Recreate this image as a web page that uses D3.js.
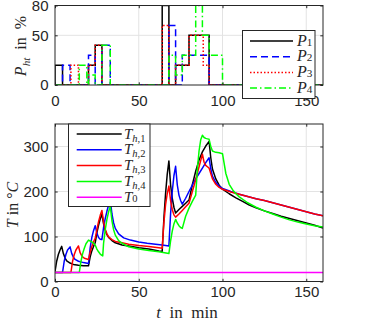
<!DOCTYPE html>
<html>
  <head>
    <meta charset="utf-8">
    <title>Heater power and temperature</title>
    <script src="https://cdn.jsdelivr.net/npm/d3@7"></script>
    <style>
      body { margin: 0; background: #fff; }
      svg { display: block; }
      .tick text { font-family: 'Liberation Sans', Arial, sans-serif; font-size: 15px; fill: #262626; }
      .tick line { stroke: #262626; }
      .label { font-family: 'Liberation Serif', 'Times New Roman', serif; fill: #262626; white-space: pre; }
    </style>
  </head>
  <body>
    <svg id="chart" width="366" height="329"></svg>
    <script>
      // tick values
      const timeTicks = [0, 50, 100, 150];
      const powerTicks = [0, 50, 80];
      const tempTicks = [0, 100, 200, 300];
      // heater power steps [t in min, P in %], value holds until next point
      const p1 = [[0, 0], [0, 20], [4.5, 0], [20, 20], [24, 40], [28, 0], [64, 80], [68, 0], [72, 20], [80, 50], [92, 0], [160, 0]];
      const p2 = [[0, 0], [4.5, 20], [9, 0], [20, 30], [24, 0], [28, 40], [33, 0], [68, 60], [72, 0], [76, 30], [92, 0], [160, 0]];
      const p3 = [[0, 0], [9.5, 20], [14, 0], [20, 20], [24, 40], [28, 0], [64, 60], [68, 0], [72, 20], [80, 50], [88.5, 20], [92, 0], [160, 0]];
      const p4 = [[0, 0], [14.5, 20], [19, 0], [20, 10], [24, 0], [28, 40], [33, 0], [68, 30], [72, 10], [76, 30], [84, 80], [88, 50], [92, 30], [100, 0], [160, 0]];
      // heater temperatures [t in min, T in °C]
      const th1 = [[0, 22], [1, 45], [2, 60], [3, 70], [4, 78], [5, 62], [6, 52], [7, 46], [9, 41], [11, 38], [14, 36], [17, 35], [20, 35],
        [21, 55], [22, 68], [23, 78], [24, 86], [25, 108], [26, 125], [27, 139], [28, 150], [29, 128], [30, 113], [31, 104], [32, 98],
        [34, 91], [36, 86], [40, 81], [44, 79], [50, 75], [56, 72], [62, 68], [64, 67], [65, 140], [66, 195], [67, 238], [68, 268],
        [69, 215], [70, 185], [71, 165], [72, 152], [74, 160], [76, 167], [78, 174], [80, 181], [82, 215], [84, 245], [86, 270],
        [88, 288], [90, 301], [92, 311], [93, 275], [94, 250], [96, 228], [98, 214], [100, 205], [104, 195], [108, 186], [112, 178],
        [116, 170], [120, 164], [125, 157], [130, 151], [135, 145], [140, 140], [145, 135], [150, 130], [155, 125], [160, 119]];
      const th2 = [[0, 20], [4.5, 20], [5.5, 45], [6.5, 60], [7.5, 70], [9, 77], [10, 62], [11, 54], [12, 49], [14, 45], [17, 42], [20, 40],
        [21, 75], [22, 98], [23, 113], [24, 124], [25, 108], [26, 98], [27, 94], [28, 93], [29, 120], [30, 140], [31, 156], [32, 170],
        [33, 182], [34, 150], [35, 130], [36, 118], [38, 106], [41, 97], [45, 92], [50, 88], [55, 85], [60, 83], [64, 81], [68, 79],
        [69, 150], [70, 200], [71, 235], [72, 256], [73, 215], [74, 192], [75, 180], [76, 172], [78, 185], [80, 200], [82, 214],
        [84, 228], [86, 240], [88, 252], [90, 264], [92, 275], [93, 250], [94, 234], [96, 220], [98, 212], [100, 207], [105, 200],
        [110, 194], [115, 189], [120, 184], [125, 180], [130, 175], [135, 170], [140, 165], [145, 160], [150, 155], [155, 150], [160, 146]];
      const th3 = [[0, 20], [9.5, 20], [10.5, 45], [11.5, 60], [12.5, 70], [14, 79], [15, 64], [16, 57], [17, 53], [18, 51], [20, 49],
        [21, 65], [22, 78], [23, 88], [24, 96], [25, 115], [26, 133], [27, 147], [28, 158], [29, 132], [30, 116], [31, 106], [32, 99],
        [34, 93], [36, 89], [40, 86], [44, 83], [50, 80], [56, 78], [62, 75], [64, 74], [65, 130], [66, 170], [67, 195], [68, 212],
        [69, 180], [70, 160], [71, 148], [72, 143], [74, 150], [76, 158], [78, 166], [80, 174], [82, 200], [84, 226], [86, 255],
        [88, 283], [89, 265], [90, 258], [91, 255], [92, 252], [93, 240], [94, 228], [96, 216], [98, 209], [100, 205], [105, 199],
        [110, 194], [115, 189], [120, 184], [125, 180], [130, 175], [135, 170], [140, 165], [145, 160], [150, 155], [155, 150], [160, 146]];
      const th4 = [[0, 20], [14.5, 20], [15.5, 45], [16.5, 62], [17.5, 74], [18.5, 84], [20, 92], [21, 90], [22, 88], [23, 85], [24, 81],
        [25, 72], [26, 66], [27, 61], [28, 58], [28.5, 57], [29, 85], [30, 115], [31, 138], [32, 155], [33, 167], [34, 135], [35, 115],
        [36, 103], [38, 91], [40, 85], [44, 77], [50, 72], [56, 69], [62, 66], [68, 62], [69, 90], [70, 112], [71, 128], [72, 138],
        [73, 130], [74, 124], [75, 120], [76, 118], [78, 145], [80, 163], [82, 178], [84, 192], [85, 250], [86, 290], [87, 315],
        [88, 325], [89, 320], [90, 318], [91, 317], [92, 316], [93, 300], [94, 290], [96, 287], [98, 286], [100, 284], [101, 262],
        [102, 240], [104, 216], [106, 204], [108, 195], [110, 188], [115, 175], [120, 165], [125, 157], [130, 150], [135, 143],
        [140, 137], [145, 132], [150, 128], [155, 124], [160, 121]];
      const t0 = [[0, 20], [160, 20]];

      // layout
      const left = 55, right = 323;
      const topBox = { top: 5.5, bottom: 85 };
      const botBox = { top: 124, bottom: 281.5 };
      const axisColor = "#262626";
      const gridColor = "#e3e3e3";
      const tickLen = 2.7;

      const svg = d3.select("#chart");
      const x = d3.scaleLinear().domain([0, 160]).range([left, right]);
      const yP = d3.scaleLinear().domain([0, 80]).range([topBox.bottom, topBox.top]);
      const yT = d3.scaleLinear().domain([0, 350]).range([botBox.bottom, botBox.top]);

      const defs = svg.append("defs");
      [["clipTop", topBox], ["clipBot", botBox]].forEach(function(c) {
        defs.append("clipPath").attr("id", c[0]).append("rect")
          .attr("x", left).attr("y", c[1].top)
          .attr("width", right - left).attr("height", c[1].bottom - c[1].top);
      });

      // grid lines for one panel
      function panel(y, yTicks, box) {
        const g = svg.append("g");
        g.selectAll(".gx").data(timeTicks.filter(function(d) { return d > 0; }))
          .join("line")
            .attr("x1", x).attr("x2", x)
            .attr("y1", box.top).attr("y2", box.bottom)
            .attr("stroke", gridColor);
        g.selectAll(".gy").data(yTicks.filter(function(d) { return y(d) > box.top + 1 && y(d) < box.bottom - 1; }))
          .join("line")
            .attr("x1", left).attr("x2", right)
            .attr("y1", y).attr("y2", y)
            .attr("stroke", gridColor);
      }
      // ticks, tick labels and box for one panel
      function axes(y, yTicks, box, xPad) {
        const g = svg.append("g");
        g.append("g").attr("transform", "translate(0," + box.bottom + ")")
          .call(d3.axisBottom(x).tickValues(timeTicks).tickSizeInner(-tickLen).tickSizeOuter(0).tickPadding(xPad));
        g.append("g").attr("transform", "translate(0," + box.top + ")")
          .call(d3.axisTop(x).tickValues(timeTicks).tickSizeInner(-tickLen).tickSizeOuter(0).tickFormat(""));
        g.append("g").attr("transform", "translate(" + left + ",0)")
          .call(d3.axisLeft(y).tickValues(yTicks).tickSizeInner(-tickLen).tickSizeOuter(0).tickPadding(6.5));
        g.append("g").attr("transform", "translate(" + right + ",0)")
          .call(d3.axisRight(y).tickValues(yTicks).tickSizeInner(-tickLen).tickSizeOuter(0).tickFormat(""));
        g.selectAll(".domain").remove();
        g.append("rect")
          .attr("x", left).attr("y", box.top)
          .attr("width", right - left).attr("height", box.bottom - box.top)
          .attr("fill", "none").attr("stroke", axisColor);
      }

      panel(yP, powerTicks, topBox);
      panel(yT, tempTicks, botBox);

      // power steps
      const powerSeries = [
        { data: p1, color: "#000000", dash: null, sub: "1" },
        { data: p2, color: "#0000ff", dash: "7,4", sub: "2" },
        { data: p3, color: "#ff0000", dash: "1.5,2", sub: "3" },
        { data: p4, color: "#00ff00", dash: "7,3,1.5,3", sub: "4" }
      ];
      const stepLine = d3.line()
        .x(function(d) { return x(d[0]); })
        .y(function(d) { return yP(d[1]); })
        .curve(d3.curveStepAfter);
      svg.append("g").attr("clip-path", "url(#clipTop)")
        .selectAll("path").data(powerSeries)
        .join("path")
          .attr("d", function(d) { return stepLine(d.data); })
          .attr("fill", "none")
          .attr("stroke", function(d) { return d.color; })
          .attr("stroke-width", 1.5)
          .attr("stroke-dasharray", function(d) { return d.dash; });

      // temperatures
      const tempSeries = [
        { data: th1, color: "#000000", subI: "h", sub: ",1" },
        { data: th2, color: "#0000ff", subI: "h", sub: ",2" },
        { data: th3, color: "#ff0000", subI: "h", sub: ",3" },
        { data: th4, color: "#00ff00", subI: "h", sub: ",4" },
        { data: t0, color: "#ff00ff", subI: "", sub: "0" }
      ];
      const tempLine = d3.line()
        .x(function(d) { return x(d[0]); })
        .y(function(d) { return yT(d[1]); });
      svg.append("g").attr("clip-path", "url(#clipBot)")
        .selectAll("path").data(tempSeries)
        .join("path")
          .attr("d", function(d) { return tempLine(d.data); })
          .attr("fill", "none")
          .attr("stroke", function(d) { return d.color; })
          .attr("stroke-width", 1.5)
          .attr("stroke-linejoin", "round");

      axes(yP, powerTicks, topBox, 10);
      axes(yT, tempTicks, botBox, 5);

      // axis labels
      function label(g, parts, size) {
        const t = g.append("text").attr("class", "label").attr("font-size", size).attr("text-anchor", "middle");
        parts.forEach(function(p) {
          t.append("tspan")
            .attr("font-style", p.italic ? "italic" : null)
            .attr("font-size", p.sub ? size * 0.7 : null)
            .attr("dy", p.dy || null)
            .text(p.s);
        });
      }
      label(svg.append("g").attr("transform", "translate(26,46) rotate(-90)"),
        [{ s: "P", italic: true }, { s: "ht", italic: true, sub: true, dy: 4 }, { s: "  in  %", dy: -4 }], 16);
      label(svg.append("g").attr("transform", "translate(18,205) rotate(-90)"),
        [{ s: "T", italic: true }, { s: " in °" }, { s: "C", italic: true }], 16);
      label(svg.append("g").attr("transform", "translate(187,318)"),
        [{ s: "t", italic: true }, { s: "  in  min" }], 17);

      // legends
      function legend(series, box, row0, rowStep, lineX, textX, size) {
        const g = svg.append("g");
        g.append("rect")
          .attr("x", box.x).attr("y", box.y).attr("width", box.w).attr("height", box.h)
          .attr("fill", "#fff").attr("stroke", axisColor);
        const rows = g.selectAll(".row").data(series).join("g")
          .attr("transform", function(d, i) { return "translate(0," + (row0 + i * rowStep) + ")"; });
        rows.append("line")
          .attr("x1", lineX[0]).attr("x2", lineX[1])
          .attr("stroke", function(d) { return d.color; })
          .attr("stroke-width", 1.5)
          .attr("stroke-dasharray", function(d) { return d.dash || null; });
        const txt = rows.append("text").attr("class", "label")
          .attr("x", textX).attr("y", 4.5).attr("font-size", size);
        txt.append("tspan").attr("font-style", "italic").text(function(d) { return d.sym; });
        txt.append("tspan").attr("font-style", "italic").attr("font-size", size * 0.7).attr("dy", 3)
          .text(function(d) { return d.subI || ""; });
        txt.append("tspan").attr("font-size", size * 0.7)
          .text(function(d) { return d.sub; });
      }
      legend(powerSeries.map(function(d) { return Object.assign({ sym: "P" }, d); }),
        { x: 242.5, y: 30.5, w: 72.5, h: 68 }, 41, 15.7, [250, 293], 297, 16);
      legend(tempSeries.map(function(d) { return Object.assign({ sym: "T" }, d); }),
        { x: 68.5, y: 124, w: 81.5, h: 82.5 }, 134, 15.8, [76.7, 121.7], 124, 15);
    </script>
  </body>
</html>
